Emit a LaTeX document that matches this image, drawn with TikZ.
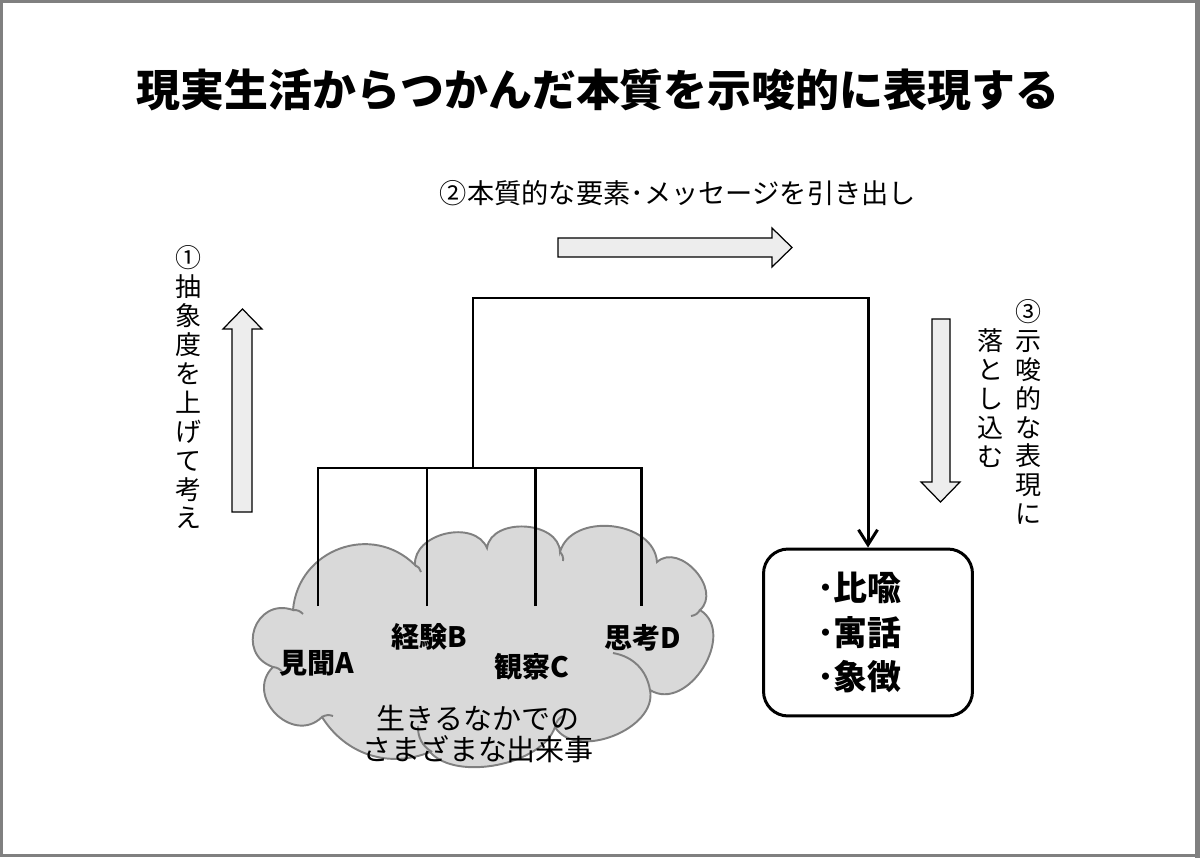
\documentclass[tikz,border=0pt]{standalone}
\usepackage{fontspec}
\setmainfont{Noto Sans CJK JP}
\usetikzlibrary{arrows.meta, positioning}

\begin{document}
\begin{tikzpicture}[x=0.02cm, y=-0.02cm,
    wire/.style={line width=1.7pt},
    blockarrow/.style={draw=black, line width=0.7pt, fill=black!7},
    cloudshape/.style={draw=black!50, line width=1.1pt, fill=black!15},
    cloudarc/.style={draw=black!50, line width=1.1pt},
    eventlabel/.style={font=\bfseries\fontsize{16pt}{19pt}\selectfont},
    vtext/.style={align=center, inner sep=0pt,
        font=\fontsize{14.8pt}{16.44pt}\selectfont},
    arr/.style={wire, -{Straight Barb[length=3mm, width=3.8mm]}},
]
    \useasboundingbox (0,0) rectangle (1200,858);

    % Frame
    \fill[white] (0,0) rectangle (1200,858);
    \draw[black!50, line width=1.7pt] (1.5,1.5) rectangle (1196.5,855.5);
    \fill[black!50] (1195,0) rectangle (1200,858);

    % Title
    \node[font=\bfseries\fontsize{25pt}{30pt}\selectfont] (title) at (598,90)
        {現実生活からつかんだ本質を示唆的に表現する};

    % Cloud of events
    \path[cloudshape] (273,667)
        to[bend left=90, looseness=1.7] (293,610)
        to[bend left=65, looseness=1.2] (415,565)
        to[bend left=80, looseness=1.1] (487,548)
        to[bend left=85, looseness=1.1] (560,552)
        to[bend left=80, looseness=1.1] (657,562)
        to[bend left=90, looseness=1.2] (700,610)
        to[bend left=90, looseness=1.2] (650,690)
        to[bend left=80] (555,727)
        to[bend left=60, looseness=0.8] (430,752)
        to[bend left=40] (322,717)
        to[bend left=90, looseness=1.5] (273,667) -- cycle;
    \draw[cloudarc] (613,653) to[bend left=35] (650,690);
    \draw[cloudarc] (418,726) to[bend right=30] (432,752);
    \foreach \ax/\ay/\bx/\by in {293/610/303/614, 415/565/421/572,
        560/552/563/561, 700/610/691/616, 555/727/563/716,
        322/717/333/716, 273/667/283/673}
        \draw[cloudarc] (\ax,\ay) to[bend left=25] (\bx,\by);

    \node[align=center, font=\fontsize{16.5pt}{18.1pt}\selectfont] (events)
        at (478,734) {生きるなかでの\\さまざまな出来事};

    \node[eventlabel] (hearing) at (317,663) {見聞A};
    \node[eventlabel] (experience) at (429,637) {経験B};
    \node[eventlabel] (observation) at (532,667) {観察C};
    \node[eventlabel] (thought) at (643,638) {思考D};

    % Expressions box
    \node[draw, wire, rounded corners=14pt, minimum width=4.18cm,
        minimum height=3.34cm, text width=2.04cm, align=left,
        font=\bfseries\fontsize{19.3pt}{25.5pt}\selectfont] (box)
        at (868,632.5) {･比喩\\･寓話\\･象徴};

    % Tree connectors
    \coordinate (dropA) at (318,606);
    \coordinate (dropB) at (427,606);
    \coordinate (dropC) at (535,606);
    \coordinate (dropD) at (641,606);
    \coordinate (hub) at (473,468);
    \coordinate (apex) at (473,298);
    \draw[wire] (dropA) -- (dropA |- hub) -- (dropD |- hub) -- (dropD);
    \draw[wire] (dropB) -- (dropB |- hub);
    \draw[wire] (dropC) -- (dropC |- hub);
    \draw[arr] (hub) -- (apex) -| (box.north);

    % Block arrows
    \draw[blockarrow] (232,512) -- (232,329) -- (223,329) -- (242.5,309)
        -- (262,329) -- (252,329) -- (252,512) -- cycle;
    \draw[blockarrow] (558,238) -- (772,238) -- (772,228) -- (792,247.5)
        -- (772,267) -- (772,257) -- (558,257) -- cycle;
    \draw[blockarrow] (932,319) -- (932,482) -- (921,482) -- (940.5,502)
        -- (960,482) -- (950,482) -- (950,319) -- cycle;

    % Step labels
    \node[vtext] (abstract) at (188,387.5)
        {①\\抽\\象\\度\\を\\上\\げ\\て\\考\\え};
    \node[font=\fontsize{15.5pt}{18pt}\selectfont] (extract) at (678,193)
        {②本質的な要素･メッセージを引き出し};
    \node[vtext] (suggest) at (1028,412)
        {③\\示\\唆\\的\\な\\表\\現\\に};
    \node[vtext] (dropin) at (990,398)
        {落\\と\\し\\込\\む};
\end{tikzpicture}
\end{document}
